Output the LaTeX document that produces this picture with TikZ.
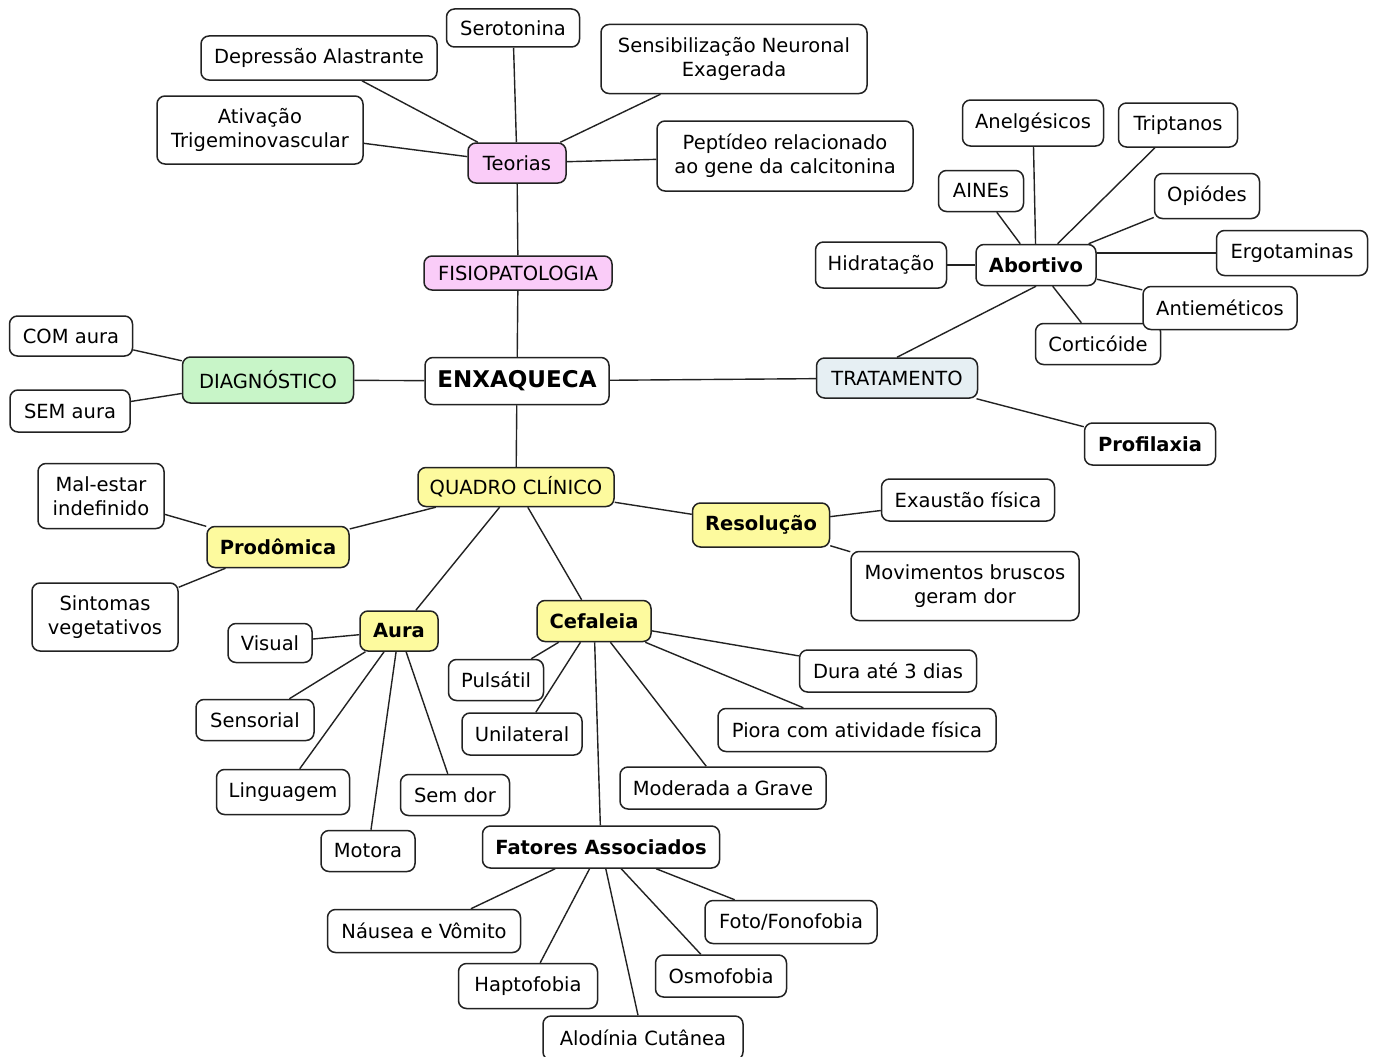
\documentclass[tikz,border=0pt]{standalone}
\usepackage{fontspec}
\setmainfont{DejaVu Sans}
\definecolor{pinkf}{HTML}{FACCF8}
\definecolor{greenf}{HTML}{C8F5C8}
\definecolor{yellowf}{HTML}{FDFA9E}
\definecolor{bluef}{HTML}{E6EFF3}
\definecolor{ink}{HTML}{222222}
\tikzset{
  box/.style={draw=ink, rounded corners=8pt, line width=1.5pt, fill=white, align=center,
    inner sep=2pt, font=\fontsize{19.5}{24}\selectfont},
  bbox/.style={box, font=\fontsize{19.5}{24}\selectfont\bfseries},
  pinkbox/.style={box, fill=pinkf},
  greenbox/.style={box, fill=greenf},
  yelbox/.style={box, fill=yellowf},
  yelbbox/.style={bbox, fill=yellowf},
  bluebox/.style={box, fill=bluef},
  link/.style={draw=ink, line width=1.4pt},
}
\begin{document}
\begin{tikzpicture}[x=1pt,y=-1pt]
\useasboundingbox (0,0) rectangle (1381,1057);
\fill[white] (0,0) rectangle (1381,1057);
% nodes
\node[box, minimum width=133pt, minimum height=38pt] (ser) at (513,28) {Serotonina};
\node[box, minimum width=236pt, minimum height=44pt] (dep) at (319,58) {Depressão Alastrante};
\node[box, minimum width=266pt, minimum height=69pt] (sen) at (734,59) {Sensibilização Neuronal\\Exagerada};
\node[box, minimum width=206pt, minimum height=68pt] (ati) at (260,130) {Ativação\\Trigeminovascular};
\node[pinkbox, minimum width=98pt, minimum height=40pt] (teo) at (517,163) {Teorias};
\node[box, minimum width=256pt, minimum height=70pt] (pep) at (785,156) {Peptídeo relacionado\\ao gene da calcitonina};
\node[pinkbox, minimum width=188pt, minimum height=34pt] (fis) at (518,273) {FISIOPATOLOGIA};
\node[box, minimum width=184pt, minimum height=47pt, font=\fontsize{23}{26}\selectfont\bfseries] (enx) at (517,381) {ENXAQUECA};
\node[greenbox, minimum width=171pt, minimum height=46pt] (dia) at (268,380) {DIAGNÓSTICO};
\node[box, minimum width=123pt, minimum height=40pt] (com) at (71,336) {COM aura};
\node[box, minimum width=120pt, minimum height=42pt] (sem) at (70,411) {SEM aura};
\node[bluebox, minimum width=161pt, minimum height=40pt] (tra) at (897,378) {TRATAMENTO};
\node[bbox, minimum width=131pt, minimum height=42pt] (pro) at (1150,444) {Profilaxia};
\node[bbox, minimum width=120pt, minimum height=41pt] (abo) at (1036,265) {Abortivo};
\node[box, minimum width=131pt, minimum height=46pt] (hid) at (881,265) {Hidratação};
\node[box, minimum width=85pt, minimum height=41pt] (ain) at (981,191) {AINEs};
\node[box, minimum width=141pt, minimum height=46pt] (ane) at (1033,123) {Anelgésicos};
\node[box, minimum width=119pt, minimum height=44pt] (tri) at (1178,125) {Triptanos};
\node[box, minimum width=105pt, minimum height=45pt] (opi) at (1207,196) {Opiódes};
\node[box, minimum width=151pt, minimum height=45pt] (erg) at (1292,253) {Ergotaminas};
\node[box, minimum width=125pt, minimum height=41pt] (cor) at (1098,344) {Corticóide};
\node[box, minimum width=154pt, minimum height=43pt] (ant) at (1220,308) {Antieméticos};
\node[yelbox, minimum width=196pt, minimum height=39pt] (qua) at (516,487) {QUADRO CLÍNICO};
\node[yelbbox, minimum width=142pt, minimum height=41pt] (prd) at (278,547) {Prodômica};
\node[box, minimum width=126pt, minimum height=65pt] (mal) at (101,496) {Mal-estar\\indefinido};
\node[box, minimum width=146pt, minimum height=68pt] (sin) at (105,617) {Sintomas\\vegetativos};
\node[yelbbox, minimum width=137pt, minimum height=44pt] (res) at (761,525) {Resolução};
\node[box, minimum width=173pt, minimum height=42pt] (exa) at (968,500) {Exaustão física};
\node[box, minimum width=228pt, minimum height=69pt] (mov) at (965,586) {Movimentos bruscos\\geram dor};
\node[yelbbox, minimum width=78pt, minimum height=40pt] (aur) at (399,631) {Aura};
\node[yelbbox, minimum width=114pt, minimum height=41pt] (cef) at (594,621) {Cefaleia};
\node[box, minimum width=84pt, minimum height=39pt] (vis) at (270,643) {Visual};
\node[box, minimum width=118pt, minimum height=41pt] (sns) at (255,720) {Sensorial};
\node[box, minimum width=133pt, minimum height=45pt] (lin) at (283,792) {Linguagem};
\node[box, minimum width=109pt, minimum height=41pt] (sdo) at (455,795) {Sem dor};
\node[box, minimum width=94pt, minimum height=41pt] (mot) at (368,851) {Motora};
\node[box, minimum width=95pt, minimum height=41pt] (pul) at (496,680) {Pulsátil};
\node[box, minimum width=120pt, minimum height=42pt] (uni) at (522,734) {Unilateral};
\node[box, minimum width=177pt, minimum height=42pt] (dur) at (888,671) {Dura até 3 dias};
\node[box, minimum width=278pt, minimum height=43pt] (pio) at (857,730) {Piora com atividade física};
\node[box, minimum width=206pt, minimum height=42pt] (mod) at (723,788) {Moderada a Grave};
\node[bbox, minimum width=237pt, minimum height=42pt] (fat) at (601,847) {Fatores Associados};
\node[box, minimum width=193pt, minimum height=43pt] (nau) at (424,931) {Náusea e Vômito};
\node[box, minimum width=139pt, minimum height=45pt] (hap) at (528,986) {Haptofobia};
\node[box, minimum width=200pt, minimum height=44pt] (alo) at (643,1038) {Alodínia Cutânea};
\node[box, minimum width=131pt, minimum height=42pt] (osm) at (721,976) {Osmofobia};
\node[box, minimum width=172pt, minimum height=43pt] (fot) at (791,922) {Foto/Fonofobia};
% links
\draw[link] (ser) -- (teo);
\draw[link] (dep) -- (teo);
\draw[link] (sen) -- (teo);
\draw[link] (ati) -- (teo);
\draw[link] (pep) -- (teo);
\draw[link] (teo) -- (fis);
\draw[link] (fis) -- (enx);
\draw[link] (dia) -- (enx);
\draw[link] (com) -- (dia);
\draw[link] (sem) -- (dia);
\draw[link] (enx) -- (tra);
\draw[link] (tra) -- (pro);
\draw[link] (tra.north) -- (abo.south);
\draw[link] (hid) -- (abo);
\draw[link] (ain) -- (abo);
\draw[link] (ane) -- (abo);
\draw[link] (tri) -- (abo);
\draw[link] (opi) -- (abo);
\draw[link] (abo.east |- erg.west) -- (erg.west);
\draw[link] (ant) -- (abo);
\draw[link] (cor) -- (abo);
\draw[link] (enx) -- (qua);
\draw[link] (qua) -- (prd);
\draw[link] (mal) -- (prd);
\draw[link] (sin) -- (prd);
\draw[link] (qua) -- (res);
\draw[link] (res) -- (exa);
\draw[link] (res) -- (mov);
\draw[link] (qua) -- (aur);
\draw[link] (qua) -- (cef);
\draw[link] (aur) -- (vis);
\draw[link] (aur) -- (sns);
\draw[link] (aur) -- (lin);
\draw[link] (aur) -- (mot);
\draw[link] (aur) -- (sdo);
\draw[link] (cef) -- (pul);
\draw[link] (cef) -- (uni);
\draw[link] (cef) -- (fat);
\draw[link] (cef) -- (mod);
\draw[link] (cef) -- (pio);
\draw[link] (cef) -- (dur);
\draw[link] (fat) -- (nau);
\draw[link] (fat) -- (hap);
\draw[link] (fat) -- (alo);
\draw[link] (fat) -- (osm);
\draw[link] (fat) -- (fot);
\end{tikzpicture}
\end{document}
